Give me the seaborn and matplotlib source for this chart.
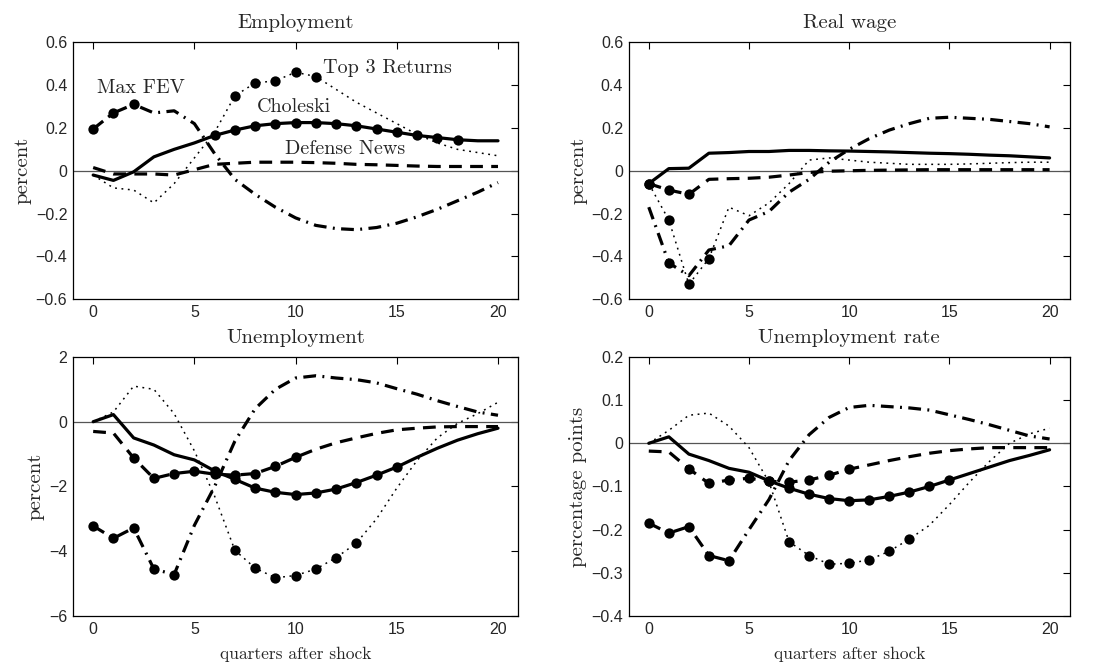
import numpy as np
import pandas as pd
import matplotlib
matplotlib.use("Agg")
import matplotlib.pyplot as plt
import seaborn as sns

quarters = list(range(21))

# ---- Employment ----
emp_chol = [-0.02, -0.045, -0.005, 0.065, 0.10, 0.13, 0.165, 0.19, 0.21, 0.22, 0.225, 0.225, 0.22, 0.21, 0.195, 0.18, 0.165, 0.155, 0.145, 0.14, 0.14]
emp_news = [0.015, -0.015, -0.015, -0.015, -0.02, 0.005, 0.03, 0.035, 0.04, 0.04, 0.04, 0.038, 0.035, 0.03, 0.028, 0.025, 0.022, 0.02, 0.02, 0.02, 0.02]
emp_fev = [0.195, 0.27, 0.31, 0.27, 0.28, 0.22, 0.08, -0.04, -0.11, -0.17, -0.22, -0.255, -0.27, -0.275, -0.265, -0.245, -0.215, -0.18, -0.14, -0.1, -0.055]
emp_top3 = [-0.02, -0.08, -0.09, -0.15, -0.06, 0.06, 0.18, 0.35, 0.41, 0.42, 0.46, 0.44, 0.38, 0.32, 0.27, 0.22, 0.17, 0.13, 0.1, 0.085, 0.07]

# ---- Real wage ----
rw_chol = [-0.06, 0.01, 0.012, 0.082, 0.085, 0.09, 0.09, 0.095, 0.095, 0.093, 0.092, 0.09, 0.088, 0.085, 0.082, 0.08, 0.077, 0.073, 0.07, 0.065, 0.06]
rw_news = [-0.06, -0.09, -0.11, -0.04, -0.037, -0.035, -0.03, -0.02, -0.008, -0.002, 0.0, 0.002, 0.003, 0.004, 0.005, 0.005, 0.005, 0.005, 0.005, 0.005, 0.005]
rw_fev = [-0.17, -0.43, -0.49, -0.37, -0.35, -0.23, -0.19, -0.1, -0.04, 0.04, 0.1, 0.15, 0.19, 0.22, 0.245, 0.25, 0.245, 0.24, 0.23, 0.22, 0.205]
rw_top3 = [-0.06, -0.23, -0.53, -0.41, -0.17, -0.21, -0.15, -0.06, 0.05, 0.06, 0.05, 0.04, 0.035, 0.03, 0.03, 0.03, 0.032, 0.035, 0.038, 0.04, 0.04]

# ---- Unemployment ----
un_chol = [0.0, 0.22, -0.5, -0.72, -1.02, -1.18, -1.52, -1.78, -2.05, -2.18, -2.25, -2.2, -2.08, -1.88, -1.65, -1.4, -1.1, -0.82, -0.57, -0.37, -0.2]
un_news = [-0.3, -0.35, -1.12, -1.75, -1.6, -1.53, -1.62, -1.65, -1.6, -1.38, -1.1, -0.85, -0.65, -0.5, -0.36, -0.25, -0.2, -0.16, -0.15, -0.15, -0.15]
un_fev = [-3.22, -3.6, -3.28, -4.55, -4.72, -3.2, -2.0, -0.6, 0.4, 1.0, 1.35, 1.42, 1.35, 1.3, 1.2, 1.02, 0.85, 0.65, 0.47, 0.3, 0.2]
un_top3 = [0.0, 0.3, 1.1, 1.0, 0.25, -0.9, -2.3, -3.97, -4.52, -4.82, -4.75, -4.55, -4.2, -3.75, -3.0, -2.05, -1.2, -0.5, -0.05, 0.25, 0.6]

# ---- Unemployment rate ----
ur_chol = [0.0, 0.015, -0.025, -0.04, -0.058, -0.067, -0.087, -0.104, -0.118, -0.128, -0.133, -0.131, -0.123, -0.113, -0.1, -0.085, -0.07, -0.055, -0.04, -0.028, -0.015]
ur_news = [-0.018, -0.02, -0.059, -0.093, -0.085, -0.081, -0.088, -0.09, -0.085, -0.074, -0.06, -0.05, -0.04, -0.031, -0.023, -0.017, -0.013, -0.01, -0.01, -0.01, -0.01]
ur_fev = [-0.185, -0.208, -0.193, -0.26, -0.272, -0.2, -0.13, -0.04, 0.02, 0.06, 0.083, 0.088, 0.085, 0.082, 0.077, 0.066, 0.055, 0.043, 0.03, 0.017, 0.01]
ur_top3 = [0.0, 0.03, 0.065, 0.07, 0.04, -0.01, -0.09, -0.228, -0.26, -0.28, -0.278, -0.27, -0.25, -0.222, -0.19, -0.142, -0.09, -0.042, 0.0, 0.022, 0.035]

# marker (significance) indices per series
emp_marks = {"Choleski": list(range(6, 19)), "Defense News": [], "Max FEV": [0, 1, 2], "Top 3 Returns": [7, 8, 9, 10, 11]}
rw_marks = {"Choleski": [0], "Defense News": [0, 1, 2], "Max FEV": [1], "Top 3 Returns": [1, 2, 3]}
un_marks = {"Choleski": list(range(6, 16)), "Defense News": list(range(2, 11)), "Max FEV": [0, 1, 2, 3, 4], "Top 3 Returns": list(range(7, 14))}
ur_marks = {"Choleski": list(range(6, 16)), "Defense News": list(range(2, 11)), "Max FEV": [0, 1, 2, 3, 4], "Top 3 Returns": list(range(7, 14))}

titles = ["Employment", "Real wage", "Unemployment", "Unemployment rate"]
ylabels = ["percent", "percent", "percent", "percentage points"]
yticks_emp = [-0.6, -0.4, -0.2, 0, 0.2, 0.4, 0.6]
yticklabels_emp = ["\u22120.6", "\u22120.4", "\u22120.2", "0", "0.2", "0.4", "0.6"]
yticks_un = [-6, -4, -2, 0, 2]
yticklabels_un = ["\u22126", "\u22124", "\u22122", "0", "2"]
yticks_ur = [-0.4, -0.3, -0.2, -0.1, 0, 0.1, 0.2]
yticklabels_ur = ["\u22120.4", "\u22120.3", "\u22120.2", "\u22120.1", "0", "0.1", "0.2"]
xticks = [0, 5, 10, 15, 20]
xticklabels = ["0", "5", "10", "15", "20"]
xlabel = "quarters after shock"

sns.set_theme(style="white")
plt.rcParams["font.family"] = ["cmr10", "DejaVu Serif"]
plt.rcParams["axes.formatter.use_mathtext"] = True

panels = [
    dict(series={"Choleski": emp_chol, "Defense News": emp_news, "Max FEV": emp_fev, "Top 3 Returns": emp_top3},
         marks=emp_marks, yticks=yticks_emp, ylab=yticklabels_emp),
    dict(series={"Choleski": rw_chol, "Defense News": rw_news, "Max FEV": rw_fev, "Top 3 Returns": rw_top3},
         marks=rw_marks, yticks=yticks_emp, ylab=yticklabels_emp),
    dict(series={"Choleski": un_chol, "Defense News": un_news, "Max FEV": un_fev, "Top 3 Returns": un_top3},
         marks=un_marks, yticks=yticks_un, ylab=yticklabels_un),
    dict(series={"Choleski": ur_chol, "Defense News": ur_news, "Max FEV": ur_fev, "Top 3 Returns": ur_top3},
         marks=ur_marks, yticks=yticks_ur, ylab=yticklabels_ur),
]

styles = {
    "Choleski": dict(lw=2.3, dashes=None),
    "Defense News": dict(lw=2.3, dashes=(4.0, 2.6)),
    "Max FEV": dict(lw=2.3, dashes=(4.0, 2.0, 0.6, 2.0)),
    "Top 3 Returns": dict(lw=1.1, dashes=(1.2, 3.0)),
}

fig = plt.figure(figsize=(11.05, 6.71), dpi=100)
rects = [
    [0.066, 0.554, 0.403, 0.383],
    [0.569, 0.554, 0.399, 0.383],
    [0.066, 0.082, 0.403, 0.386],
    [0.569, 0.082, 0.399, 0.386],
]

tickfont = dict(family="Liberation Sans", size=11.5)

for i, (p, rect) in enumerate(zip(panels, rects)):
    ax = fig.add_axes(rect)
    ax.axhline(0, color="#555555", lw=0.9, zorder=1)
    for name, vals in p["series"].items():
        df = pd.DataFrame({"q": quarters, "v": vals})
        st = styles[name]
        sns.lineplot(data=df, x="q", y="v", ax=ax, color="black", lw=st["lw"],
                     legend=False, zorder=3)
        ln = ax.lines[-1]
        if st["dashes"] is not None:
            ln.set_dashes(st["dashes"])
        idx = p["marks"][name]
        if idx:
            dm = df.iloc[idx]
            sns.scatterplot(data=dm, x="q", y="v", ax=ax, color="black", s=55,
                            edgecolor="black", linewidth=0, legend=False, zorder=4)
    ax.set_xlim(-1, 21)
    ax.set_ylim(p["yticks"][0], p["yticks"][-1])
    ax.set_xticks(xticks)
    ax.set_xticklabels(xticklabels, fontdict=tickfont)
    ax.set_yticks(p["yticks"])
    ax.set_yticklabels(p["ylab"], fontdict=tickfont)
    ax.tick_params(direction="in", top=True, right=True, length=5, width=0.8, color="black", pad=4)
    for s in ax.spines.values():
        s.set_color("black")
        s.set_linewidth(0.9)
    ax.set_title(titles[i], fontsize=15, pad=10)
    ax.set_ylabel(ylabels[i], fontsize=15, labelpad=3)
    if i >= 2:
        ax.set_xlabel(xlabel, fontsize=12.5, labelpad=7)
    else:
        ax.set_xlabel("")
    if i == 0:
        ax.text(0.2, 0.385, "Max FEV", fontsize=14.5, va="center", ha="left")
        ax.text(11.35, 0.48, "Top 3 Returns", fontsize=14.5, va="center", ha="left")
        ax.text(8.1, 0.296, "Choleski", fontsize=14.5, va="center", ha="left")
        ax.text(9.5, 0.10, "Defense News", fontsize=14.5, va="center", ha="left")

fig.savefig("out.png", dpi=100, facecolor="white")
